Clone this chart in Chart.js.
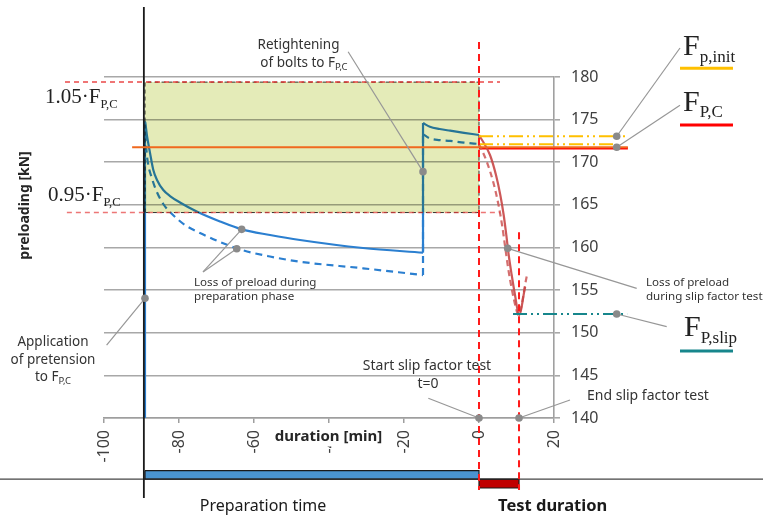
<!DOCTYPE html>
<html>
<head>
<meta charset="utf-8">
<script src="https://cdn.jsdelivr.net/npm/chart.js@4.4.0/dist/chart.umd.min.js"></script>
<style>
  html, body { margin: 0; padding: 0; background: #fff; }
  #wrap { width: 763px; height: 517px; position: relative; }
</style>
</head>
<body>
<div id="wrap"><canvas id="mycanvas"></canvas></div>
<script>
// ---- values (time in min, preload in kN) ----
var xTicks = [-100, -80, -60, -40, -20, 0, 20];
var yTicks = [140, 145, 150, 155, 160, 165, 170, 175, 180];

var tStart = -89.07;     // application of pretension
var tRetight = -14.93;   // retightening of bolts
var tTestEnd = 10.67;    // end of slip factor test

var fPC = 171.76;
var fInit = 173.05;
var fInitDashed = 172.1;
var fSlip = 152.2;
var tolUpper = 179.4;    // 1.05 F_P,C
var tolLower = 164.1;    // 0.95 F_P,C

// preparation phase
var prepTimeSolid = [-89.07, -88.8, -88.53, -88.19, -87.73, -86.85, -85.87, -84.19, -82.4, -79.73, -75.28, -69.07, -63.28, -55.73, -47.73, -30.93, -14.93];
var prepSolid     = [174.76, 174.02, 173.08, 172.22, 171.09, 169.09, 167.92, 166.74, 166.04, 165.28, 164.22, 163.05, 162.13, 161.47, 160.88, 159.94, 159.39];
var prepTimeDashed = [-89.07, -88.85, -88.61, -88.13, -87.28, -86.13, -84.19, -81.87, -78.4, -74.4, -69.07, -63.73, -55.73, -47.73, -30.93, -14.93];
var prepDashed     = [174.76, 172.61, 171.05, 169.56, 168.21, 166.74, 165.1, 163.93, 162.64, 161.7, 160.65, 159.77, 158.94, 158.33, 157.56, 156.77];

// after retightening
var retTime   = [-14.93, -13.1, -10.5, -7.7, -4.0, 0];
var retSolid  = [174.6, 174.17, 173.9, 173.7, 173.45, 173.2];
var retDashed = [173.3, 172.8, 172.6, 172.5, 172.3, 172.14];

// slip factor test
var testTimeSolid = [0, 2.93, 4.53, 5.68, 6.58, 7.28, 7.92, 8.72, 9.6, 10.67, 12.3];
var testSolid     = [173.2, 170.85, 168.5, 166.16, 163.81, 161.47, 159.12, 156.77, 154.43, 152.08, 155.4];
var testTimeDashed = [0, 2.05, 3.9, 5.2, 6.2, 7.0, 7.8, 8.8, 9.8, 10.48, 12.72];
var testDashed     = [172.14, 170.1, 167.5, 165.0, 162.5, 160.0, 157.5, 155.0, 153.0, 152.08, 156.6];

// ---- layout helpers (positions of decorations, in axis units) ----
var prepBarLevel = 133.33, testBarLevel = 132.31, baseLevel = 132.84;

var BLUE = '#2b7fd0';
var RED = 'rgba(200,70,70,0.9)';
var GOLD = '#ffc000';
var TEAL = '#17868c';

function pts(xs, ys) {
  return xs.map(function (x, i) { return {x: x, y: ys[i]}; });
}
function seg(x0, y0, x1, y1) { return [{x: x0, y: y0}, {x: x1, y: y1}]; }

var datasets = [
  // under the tolerance box
  {label: 'prepSolid', data: pts(prepTimeSolid, prepSolid), borderColor: BLUE, order: 10, cubicInterpolationMode: 'monotone'},
  {label: 'prepDashed', data: pts(prepTimeDashed, prepDashed), borderColor: BLUE, borderDash: [7, 5], order: 10, cubicInterpolationMode: 'monotone'},
  {label: 'startVert', data: seg(tStart, 140, tStart, prepSolid[0]), borderColor: BLUE, order: 10},
  {label: 'retVertSolid', data: seg(tRetight, prepSolid[prepSolid.length - 1], tRetight, retSolid[0]), borderColor: BLUE, order: 10},
  {label: 'retVertDashed', data: seg(tRetight, prepDashed[prepDashed.length - 1], tRetight, retDashed[0]), borderColor: BLUE, borderDash: [7, 5], order: 11},
  {label: 'retSolid', data: pts(retTime, retSolid), borderColor: BLUE, order: 10, cubicInterpolationMode: 'monotone'},
  {label: 'retDashed', data: pts(retTime, retDashed), borderColor: BLUE, borderDash: [7, 5], order: 10, cubicInterpolationMode: 'monotone'},

  // tolerance box 0.95..1.05 F_P,C (multiplied over what is beneath)
  {label: 'tolerance', data: pts([tStart, tStart, 0, 0, tStart], [tolLower, tolUpper, tolUpper, tolLower, tolLower]),
   borderColor: '#333', borderWidth: 1, borderDash: [4, 3], backgroundColor: 'rgb(228,235,184)', fill: 'shape', order: 5},

  // above the box
  {label: 'tolTop', data: seg(-110.4, tolUpper, 5.6, tolUpper), borderColor: 'rgba(230,40,40,0.85)', borderWidth: 1.5, borderDash: [5, 4], order: 1},
  {label: 'tolBottom', data: seg(-109.9, tolLower, 5.6, tolLower), borderColor: 'rgba(230,60,60,0.7)', borderWidth: 1.5, borderDash: [5, 4], order: 1},
  {label: 'fPCred', data: seg(0, fPC - 0.12, 39.7, fPC - 0.12), borderColor: '#ff0000', borderWidth: 2.5, order: 2},
  {label: 'fPC', data: seg(-92.5, fPC, 39.7, fPC), borderColor: '#f0691e', borderWidth: 2.2, order: 1},
  {label: 'fInit', data: seg(0, fInit, 39.9, fInit), borderColor: GOLD, borderWidth: 2, borderDash: [14, 4, 2, 4, 2, 4], order: 1},
  {label: 'fInitDashed', data: seg(0, fInitDashed, 36.0, fInitDashed), borderColor: GOLD, borderWidth: 2, borderDash: [14, 4, 2, 4, 2, 4], order: 1},
  {label: 'fSlip', data: seg(9.07, fSlip, 39.5, fSlip), borderColor: TEAL, borderWidth: 2, borderDash: [14, 4, 2, 4, 2, 4], order: 1},
  {label: 'testSolid', data: pts(testTimeSolid, testSolid), borderColor: RED, order: 1, cubicInterpolationMode: 'monotone'},
  {label: 'testDashed', data: pts(testTimeDashed, testDashed), borderColor: 'rgba(205,85,85,0.85)', borderDash: [6, 4], order: 1, cubicInterpolationMode: 'monotone'},
  {label: 'startLine', data: seg(tStart - 0.3, 188.2, tStart - 0.3, 130.62), borderColor: '#1a1a1a', borderWidth: 1.8, order: 1},
  {label: 'testStart', data: seg(0, 184.1, 0, 131.55), borderColor: '#ff1a1a', borderWidth: 2, borderDash: [7, 5], order: 0},
  {label: 'testEnd', data: seg(tTestEnd, 161.8, tTestEnd, 131.55), borderColor: '#ff1a1a', borderWidth: 2, borderDash: [7, 5], order: 0},

  // phase bars below the axis
  {label: 'baseLine', data: seg(-128, baseLevel, 76, baseLevel), borderColor: '#444', borderWidth: 1.3, order: 3},
  {label: 'prepBar', data: seg(tStart, prepBarLevel, 0, prepBarLevel), borderColor: '#4a94d0', borderWidth: 8.3, order: 3},
  {label: 'prepBarEdge', data: pts([tStart, 0, 0, tStart, tStart], [133.82, 133.82, 132.84, 132.84, 133.82]), borderColor: '#1a1a1a', borderWidth: 1.2, order: 2},
  {label: 'testBar', data: seg(0, testBarLevel, tTestEnd, testBarLevel), borderColor: '#c00000', borderWidth: 9, order: 3},
  {label: 'testBarEdge', data: pts([0, tTestEnd, tTestEnd, 0, 0], [132.84, 132.84, 131.79, 131.79, 132.84]), borderColor: '#1a1a1a', borderWidth: 1.2, order: 2}
];

datasets.forEach(function (d) {
  d.pointRadius = 0;
  d.clip = false;
  if (d.fill === undefined) d.fill = false;
  if (d.borderWidth === undefined) d.borderWidth = 2.2;
  d.borderCapStyle = 'butt';
});

// callouts: [from t, from F, to t, to F]
var callouts = [
  [-34.9, 182.96, tRetight, 168.9],
  [-73.6, 157.13, -63.28, 162.13],
  [-73.6, 157.13, -64.6, 159.85],
  [-99.3, 148.56, tStart, 154.04],
  [-13.52, 142.31, 0, 140],
  [24.27, 142.11, tTestEnd, 140],
  [42.05, 155.21, 7.65, 159.9],
  [50.05, 150.71, 36.72, fSlip],
  [53.6, 183.4, 36.72, fInit],
  [53.6, 176.7, 36.72, fPC]
];

var SANS = '"Noto Sans", sans-serif';
var SERIF = '"Liberation Serif", "Times New Roman", serif';

// the box is drawn with multiply so lines beneath turn teal
var multiplyBox = {
  id: 'multiplyBox',
  afterDatasetDraw: function (chart, args) {
    var metas = chart.getSortedVisibleDatasetMetas();
    var i = metas.indexOf(args.meta);
    var c = chart.ctx;
    if (chart.data.datasets[args.index].label === 'tolerance') {
      c.globalCompositeOperation = 'source-over';
    } else if (i > 0 && chart.data.datasets[metas[i - 1].index].label === 'tolerance') {
      c.globalCompositeOperation = 'multiply';
    }
  }
};

var notes = {
  id: 'notes',
  afterDraw: function (chart) {
    var c = chart.ctx, sx = chart.scales.x, sy = chart.scales.y;
    function X(v) { return sx.getPixelForValue(v); }
    function Y(v) { return sy.getPixelForValue(v); }

    function rich(parts, x, y, align) {
      var w = 0;
      parts.forEach(function (p) { c.font = p[1]; w += c.measureText(p[0]).width; });
      var cx = align === 'center' ? x - w / 2 : x;
      c.textAlign = 'left';
      c.textBaseline = 'alphabetic';
      parts.forEach(function (p) {
        c.font = p[1];
        c.fillText(p[0], cx, y + (p[2] || 0));
        cx += c.measureText(p[0]).width;
      });
    }

    c.save();
    // leader lines and dots
    c.strokeStyle = '#979797';
    c.lineWidth = 1.2;
    callouts.forEach(function (k) {
      c.beginPath();
      c.moveTo(X(k[0]), Y(k[1]));
      c.lineTo(X(k[2]), Y(k[3]));
      c.stroke();
    });
    c.fillStyle = '#8a8a8a';
    callouts.forEach(function (k) {
      c.beginPath();
      c.arc(X(k[2]), Y(k[3]), 3.8, 0, Math.PI * 2);
      c.fill();
    });

    // axis titles
    c.font = 'bold 15px ' + SANS;
    var tw = c.measureText('duration [min]').width;
    c.fillStyle = '#fff';
    c.fillRect(X(-40.13) - tw / 2 - 3, Y(137.83) - 10, tw + 6, 20);
    c.fillStyle = '#262626';
    c.textAlign = 'center';
    c.textBaseline = 'middle';
    c.fillText('duration [min]', X(-40.13), Y(137.83));

    c.save();
    c.translate(X(-121.07), Y(164.93));
    c.rotate(-Math.PI / 2);
    c.font = 'bold 14px ' + SANS;
    c.fillText('preloading [kN]', 0, 0);
    c.restore();

    // notes
    c.fillStyle = '#333';
    var f14 = '13.5px ' + SANS, fsub = '9.5px ' + SANS, f12 = '11.6px ' + SANS;
    rich([['Retightening', f14]], X(-48.13), Y(183.28), 'center');
    rich([['of bolts to F', f14], ['P,C', fsub, 3]], X(-46.67), Y(181.17), 'center');
    rich([['Loss of preload during', f12]], X(-76), Y(155.54), 'left');
    rich([['preparation phase', f12]], X(-76), Y(153.84), 'left');
    rich([['Application', f14]], X(-113.6), Y(148.45), 'center');
    rich([['of pretension', f14]], X(-113.6), Y(146.39), 'center');
    rich([['to F', f14], ['P,C', fsub, 3]], X(-113.6), Y(144.34), 'center');
    rich([['Start slip factor test', '14px ' + SANS]], X(-13.87), Y(145.63), 'center');
    rich([['t=0', '14px ' + SANS]], X(-13.6), Y(143.52), 'center');
    rich([['End slip factor test', '14px ' + SANS]], X(28.8), Y(142.11), 'left');
    rich([['Loss of preload', f12]], X(44.53), Y(155.43), 'left');
    rich([['during slip factor test', f12]], X(44.53), Y(153.9), 'left');

    // tolerance labels
    c.fillStyle = '#222';
    rich([['1.05\u00b7F', '21px ' + SERIF], ['P,C', '12.5px ' + SERIF, 5]], X(-115.73), Y(176.95), 'left');
    rich([['0.95\u00b7F', '21px ' + SERIF], ['P,C', '12.5px ' + SERIF, 5]], X(-114.93), Y(165.51), 'left');

    // legend-like symbols on the right
    rich([['F', '30px ' + SERIF], ['p,init', '17px ' + SERIF, 6.7]], X(54.4), Y(182.58), 'left');
    rich([['F', '30px ' + SERIF], ['P,C', '17px ' + SERIF, 6]], X(54.4), Y(176.05), 'left');
    rich([['F', '30px ' + SERIF], ['P,slip', '17px ' + SERIF, 7]], X(54.67), Y(149.62), 'left');
    c.lineWidth = 3;
    [[GOLD, 181.02], ['#ff0000', 174.37], [TEAL, 147.86]].forEach(function (u) {
      c.strokeStyle = u[0];
      c.beginPath();
      c.moveTo(X(53.6), Y(u[1]));
      c.lineTo(X(67.73), Y(u[1]));
      c.stroke();
    });

    // phase names
    c.fillStyle = '#1a1a1a';
    rich([['Preparation time', '16px ' + SANS]], X(-57.6), Y(129.09), 'center');
    rich([['Test duration', 'bold 16.5px ' + SANS]], X(5.07), Y(129.09), 'left');
    c.restore();
  }
};

var ctx = document.getElementById('mycanvas');

var chart = new Chart(ctx, {
  type: 'line',
  data: {datasets: datasets},
  options: {
    responsive: true,
    maintainAspectRatio: false,
    animation: false,
    layout: {padding: {left: 104, top: 77, right: 0, bottom: 0}},
    plugins: {legend: {display: false}, tooltip: {enabled: false}},
    scales: {
      x: {
        type: 'linear', min: -100, max: 20, position: 'bottom',
        afterBuildTicks: function (s) { s.ticks = xTicks.map(function (v) { return {value: v}; }); },
        afterFit: function (s) { s.height = 99; },
        grid: {drawOnChartArea: false, tickLength: 5, color: '#9e9e9e', lineWidth: 1.5},
        border: {color: '#9e9e9e', width: 1.5},
        ticks: {autoSkip: false, minRotation: 90, maxRotation: 90, padding: 7, color: '#404040',
                font: {family: 'Noto Sans', size: 16}}
      },
      y: {
        type: 'linear', min: 140, max: 180, position: 'right',
        afterBuildTicks: function (s) { s.ticks = yTicks.map(function (v) { return {value: v}; }); },
        afterFit: function (s) { s.width = 209; },
        grid: {tickLength: 6, color: '#a8a8a8', lineWidth: 1.6},
        border: {color: '#a0a0a0', width: 1.6},
        ticks: {padding: 11, color: '#404040', font: {family: 'Noto Sans', size: 16}}
      }
    }
  },
  plugins: [multiplyBox, notes]
});
</script>
</body>
</html>
